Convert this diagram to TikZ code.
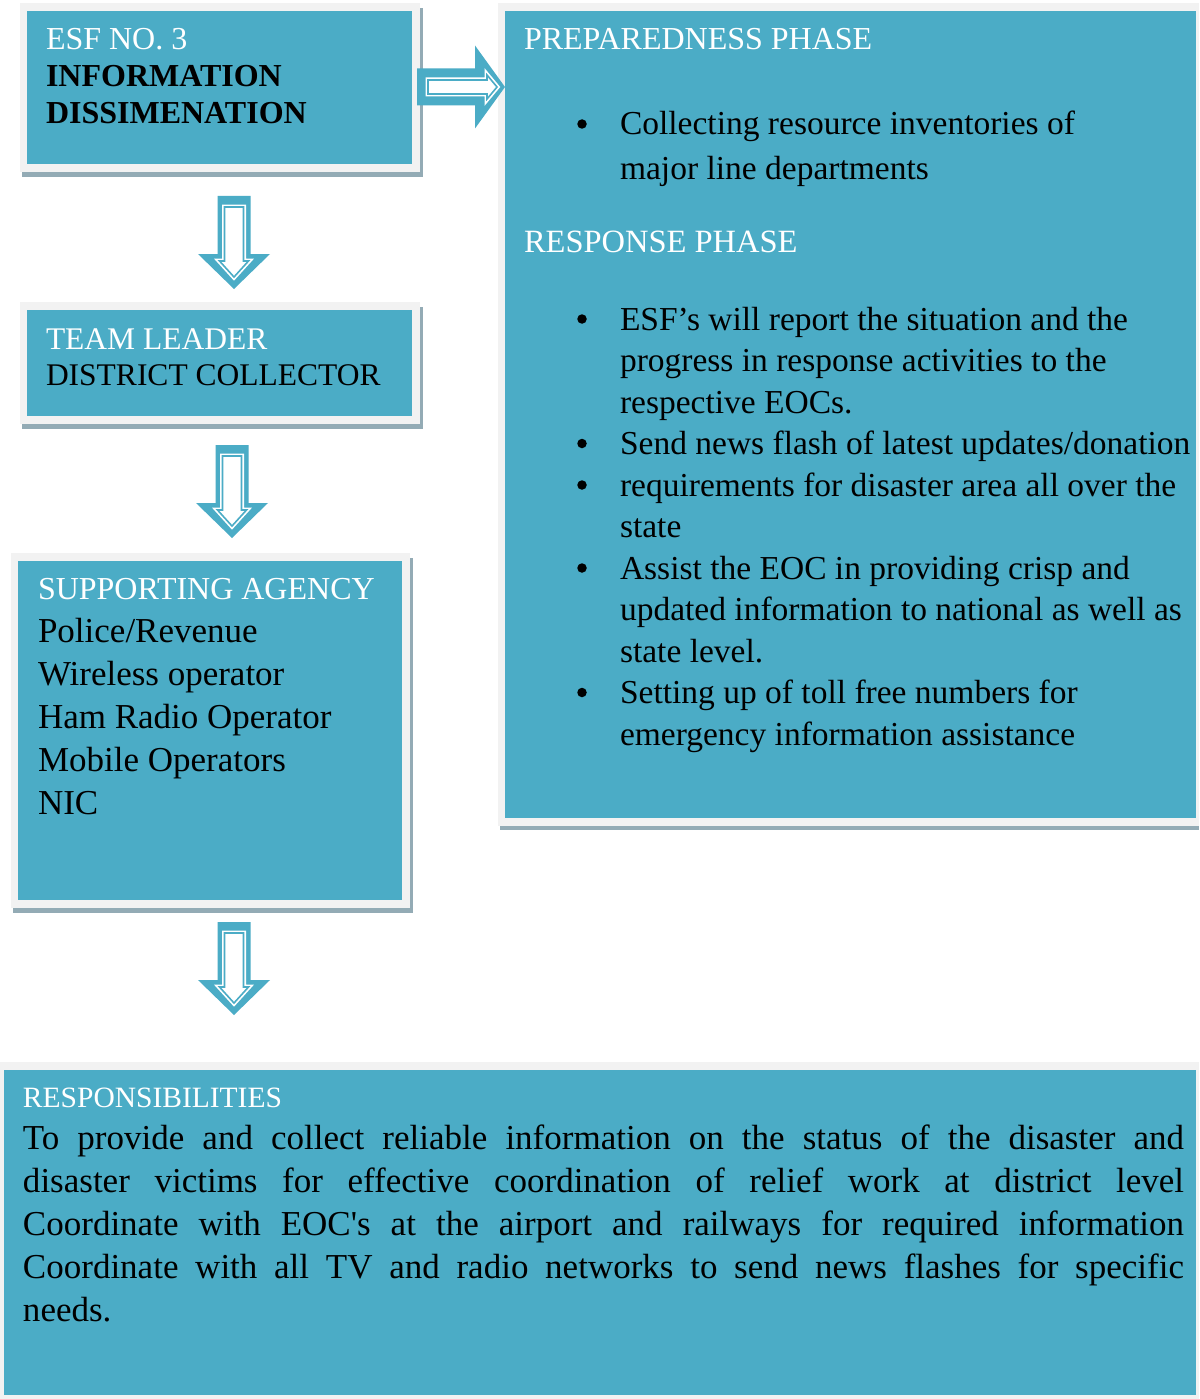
\documentclass[tikz,border=0pt]{standalone}
\usepackage{fontspec}
\setmainfont{Liberation Serif}
\definecolor{boxteal}{HTML}{4BACC6}
\definecolor{framegray}{HTML}{F2F2F2}
\definecolor{shadowgray}{HTML}{93ABB5}

% panel: light frame with a thin shadow and a teal face
\newcommand\esfpanel[5]{%
  \fill[shadowgray] (#2+2,#3+5) rectangle (#4+3,#5+5);
  \fill[framegray] (#2,#3) rectangle (#4,#5);
  \fill[boxteal] (#2+7,#3+8) rectangle (#4-8,#5-8);
  \coordinate (#1-nw) at (#2,#3);
  \coordinate (#1-se) at (#4,#5);}

\tikzset{
  txt/.style={anchor=base west, inner sep=0pt, outer sep=0pt},
  hd/.style={txt, text=white, font=\fontsize{32}{37}\selectfont},
  bd/.style={txt, text=black, font=\fontsize{35}{42}\selectfont},
  rbd/.style={txt, text=black, font=\fontsize{33.5}{42}\selectfont},
  dot/.style={circle, fill=black, inner sep=0pt, minimum size=9.5pt},
  % hollow block arrow pointing down, origin at the middle of its top edge
  darrow/.pic={
    \fill[boxteal] (-16.5,0) -- (16.5,0) -- (16.5,58) -- (36,58) -- (0,93)
      -- (-36,58) -- (-16.5,58) -- cycle;
    \path[fill=white, draw=white, line width=5pt, line join=miter]
      (-9.5,11) -- (9.5,11) -- (9.5,65) -- (14.5,65) -- (0,81)
      -- (-14.5,65) -- (-9.5,65) -- cycle;
    \draw[boxteal, line width=1.6pt, line join=miter]
      (-9.5,11) -- (9.5,11) -- (9.5,65) -- (14.5,65) -- (0,81)
      -- (-14.5,65) -- (-9.5,65) -- cycle;
  },
  % hollow block arrow pointing right, origin at the middle of its left edge
  rarrow/.pic={
    \fill[boxteal] (0,-18.5) -- (58,-18.5) -- (58,-41.5) -- (88,0)
      -- (58,41.5) -- (58,18.5) -- (0,18.5) -- cycle;
    \path[fill=white, draw=white, line width=5pt, line join=miter]
      (11,-7) -- (70,-7) -- (70,-12) -- (80,0) -- (70,12) -- (70,7)
      -- (11,7) -- cycle;
    \draw[boxteal, line width=1.6pt, line join=miter]
      (11,-7) -- (70,-7) -- (70,-12) -- (80,0) -- (70,12) -- (70,7)
      -- (11,7) -- cycle;
  }
}

\begin{document}
\begin{tikzpicture}[x=1pt,y=-1pt]
\useasboundingbox (0,0) rectangle (1199,1399);
\fill[white] (0,0) rectangle (1199,1399);

% ---- left column panels
\esfpanel{esf}{20}{3}{420}{172}
\esfpanel{lead}{20}{302}{420}{424}
\esfpanel{agency}{11}{553}{410}{908}

% ---- phases panel on the right
\fill[shadowgray] (500,8) rectangle (1199,830);
\fill[framegray] (498,3) rectangle (1199,826);
\fill[boxteal] (505,11) rectangle (1196,818);
\coordinate (phase-nw) at (498,3);

% ---- responsibilities panel at the bottom
\fill[framegray] (0,1062) rectangle (1199,1399);
\fill[boxteal] (4,1070) rectangle (1196,1395);
\coordinate (resp-nw) at (0,1062);

% ---- block arrows
\pic (a0) at (417,87) {rarrow};
\pic (a1) at (234,196) {darrow};
\pic (a2) at (232,445) {darrow};
\pic (a3) at (234,922) {darrow};

% ---- ESF title
\node[hd] (t1) at (46,50) {ESF NO. 3};
\node[txt, font=\fontsize{32}{37}\selectfont\bfseries] (t2) at (46,87) {INFORMATION};
\node[txt, font=\fontsize{32}{37}\selectfont\bfseries] (t3) at (46,124) {DISSIMENATION};

% ---- team leader
\node[hd, font=\fontsize{31.5}{37}\selectfont] (l1) at (46,349) {TEAM LEADER};
\node[txt, font=\fontsize{31.5}{37}\selectfont] (l2) at (46,385) {DISTRICT COLLECTOR};

% ---- supporting agency
\node[hd] (s0) at (38,599) {SUPPORTING AGENCY};
\foreach \t [count=\i] in {Police/Revenue, Wireless operator, Ham Radio Operator,
    Mobile Operators, NIC}
  \node[bd] (s\i) at (38,599+43*\i) {\t};

% ---- preparedness phase
\node[hd] (p0) at (524,50) {PREPAREDNESS PHASE};
\node[dot] (pb1) at (582,124) {};
\node[rbd] (p1) at (620,135) {Collecting resource inventories of};
\node[rbd] (p2) at (620,180) {major line departments};

% ---- response phase
\node[hd, font=\fontsize{32.5}{37}\selectfont] (r0) at (524,252) {RESPONSE PHASE};
\foreach \t [count=\i from 0] in {%
    {ESF’s will report the situation and the},
    {progress in response activities to the},
    {respective EOCs.},
    {Send news flash of latest updates/donation},
    {requirements for disaster area all over the},
    {state},
    {Assist the EOC in providing crisp and},
    {updated information to national as well as},
    {state level.},
    {Setting up of toll free numbers for},
    {emergency information assistance}}
  \node[rbd] (r\i) at (620,330+41.5*\i) {\t};
\foreach \i in {0,3,4,6,9}
  \node[dot] (rb\i) at (582,319+41.5*\i) {};

% ---- responsibilities
\node[hd, font=\fontsize{29.5}{37}\selectfont] (q0) at (23,1107) {RESPONSIBILITIES};
\foreach \t [count=\i] in {%
    {To provide and collect reliable information on the status of the disaster and},
    {disaster victims for effective coordination of relief work at district level},
    {Coordinate with EOC\textquotesingle s at the airport and railways for required information},
    {Coordinate with all TV and radio networks to send news flashes for specific}}
  \node[bd] (q\i) at (23,1107+42.8*\i) {\makebox[1161pt][s]{\t}};
\node[bd] (q5) at (23,1107+42.8*5) {needs.};
\end{tikzpicture}
\end{document}
